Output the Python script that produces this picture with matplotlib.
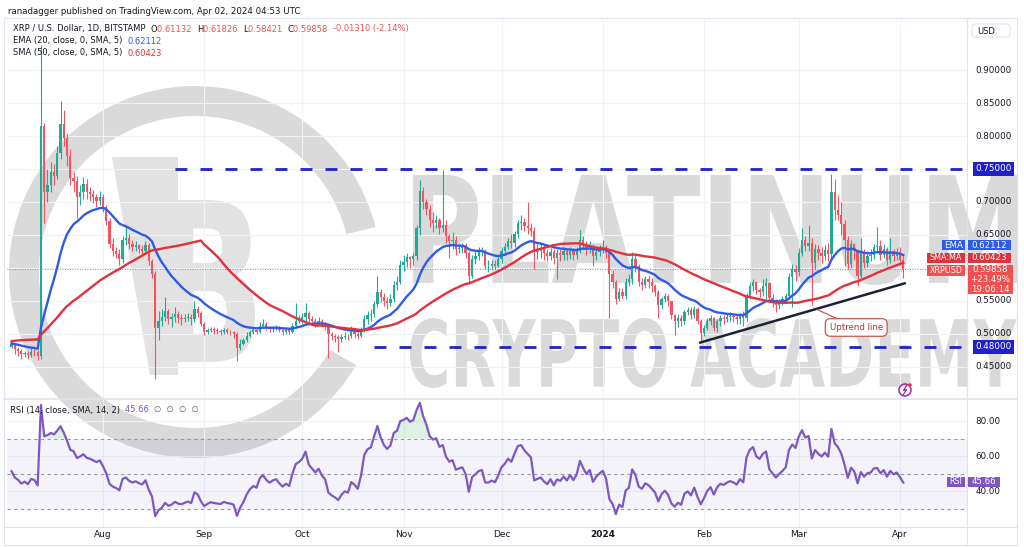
import numpy as np
import pandas as pd
import matplotlib
matplotlib.use('Agg')
import matplotlib.pyplot as plt
import matplotlib.dates as mdates
from matplotlib.patches import Wedge, PathPatch, Rectangle, FancyBboxPatch, Circle, Polygon
from matplotlib.textpath import TextPath
from matplotlib.font_manager import FontProperties
from matplotlib.transforms import Affine2D, blended_transform_factory

W, H = 1024, 547

# daily XRP/USD candles, first bar 2023-07-04, last bar 2024-04-02
first_day = '2023-07-04'

# closes before the first visible bar, only used to warm up EMA/SMA/RSI
warmup_closes = [
    0.430, 0.440, 0.450, 0.460, 0.460, 0.460, 0.460, 0.460, 0.460, 0.460,
    0.470, 0.470, 0.480, 0.500, 0.510, 0.510,
    0.510, 0.530, 0.530, 0.540, 0.520, 0.530, 0.520, 0.520, 0.520, 0.500,
    0.520, 0.530, 0.520, 0.490, 0.470, 0.480, 0.490, 0.480, 0.490, 0.490,
    0.500, 0.490, 0.490, 0.480, 0.480, 0.480, 0.480, 0.470, 0.480, 0.470,
    0.480, 0.490, 0.480,
]

closes = [
    # Jul
    0.485, 0.477, 0.474, 0.469, 0.471, 0.468, 0.473, 0.472, 0.466, 0.815,
    0.715, 0.725, 0.745, 0.740, 0.775, 0.818, 0.797, 0.770, 0.737, 0.732,
    0.707, 0.715, 0.727, 0.715, 0.712, 0.707, 0.702, 0.708,
    # Aug
    0.692, 0.671, 0.636, 0.626, 0.621, 0.613, 0.642, 0.646, 0.636, 0.631,
    0.634, 0.629, 0.626, 0.634, 0.611, 0.591, 0.508, 0.520, 0.525, 0.535,
    0.523, 0.525, 0.530, 0.524, 0.522, 0.524, 0.526, 0.522, 0.537, 0.532,
    0.515,
    # Sep
    0.502, 0.505, 0.507, 0.505, 0.504, 0.503, 0.505, 0.503, 0.502, 0.500,
    0.478, 0.485, 0.490, 0.497, 0.502, 0.505, 0.503, 0.512, 0.515, 0.510,
    0.507, 0.509, 0.510, 0.506, 0.503, 0.505, 0.503, 0.512, 0.520, 0.522,
    # Oct
    0.525, 0.532, 0.523, 0.520, 0.517, 0.520, 0.515, 0.512, 0.500, 0.497,
    0.495, 0.492, 0.495, 0.497, 0.496, 0.502, 0.500, 0.497, 0.505, 0.522,
    0.528, 0.530, 0.545, 0.564, 0.556, 0.550, 0.547, 0.552, 0.574, 0.579,
    0.605,
    # Nov
    0.609, 0.616, 0.613, 0.618, 0.660, 0.716, 0.700, 0.689, 0.673, 0.668,
    0.672, 0.660, 0.665, 0.648, 0.640, 0.643, 0.628, 0.630, 0.632, 0.622,
    0.588, 0.613, 0.618, 0.624, 0.626, 0.603, 0.603, 0.606, 0.603, 0.613,
    # Dec
    0.626, 0.632, 0.641, 0.637, 0.652, 0.668, 0.670, 0.664, 0.660, 0.656,
    0.624, 0.626, 0.628, 0.622, 0.618, 0.624, 0.615, 0.622, 0.620, 0.625,
    0.620, 0.626, 0.620, 0.626, 0.643, 0.635, 0.628, 0.633, 0.618, 0.624,
    0.628,
    # Jan
    0.631, 0.622, 0.590, 0.579, 0.553, 0.564, 0.558, 0.579, 0.583, 0.613,
    0.603, 0.579, 0.574, 0.583, 0.579, 0.572, 0.564, 0.543, 0.553, 0.558,
    0.549, 0.528, 0.519, 0.524, 0.519, 0.533, 0.536, 0.528, 0.538, 0.519,
    0.501,
    # Feb
    0.509, 0.519, 0.524, 0.509, 0.519, 0.524, 0.522, 0.525, 0.527, 0.525,
    0.522, 0.528, 0.524, 0.558, 0.572, 0.578, 0.567, 0.564, 0.573, 0.577,
    0.555, 0.549, 0.543, 0.548, 0.552, 0.557, 0.586, 0.598, 0.594,
    # Mar
    0.622, 0.642, 0.633, 0.638, 0.607, 0.628, 0.622, 0.618, 0.627, 0.621,
    0.715, 0.688, 0.680, 0.667, 0.642, 0.606, 0.636, 0.625, 0.588, 0.622,
    0.607, 0.618, 0.620, 0.632, 0.633, 0.620, 0.628, 0.612, 0.626, 0.618,
    0.622,
    # Apr
    0.61168, 0.59858,
]

highs = [
    # Jul
    0.492, 0.486, 0.480, 0.477, 0.474, 0.474, 0.478, 0.477, 0.476, 0.938,
    0.820, 0.750, 0.760, 0.758, 0.785, 0.853, 0.840, 0.805, 0.780, 0.745,
    0.740, 0.725, 0.738, 0.735, 0.722, 0.718, 0.712, 0.716,
    # Aug
    0.712, 0.695, 0.675, 0.645, 0.632, 0.628, 0.648, 0.662, 0.652, 0.642,
    0.640, 0.636, 0.634, 0.640, 0.638, 0.614, 0.595, 0.535, 0.538, 0.556,
    0.538, 0.532, 0.540, 0.534, 0.530, 0.530, 0.531, 0.530, 0.550, 0.542,
    0.534,
    # Sep
    0.518, 0.509, 0.510, 0.510, 0.508, 0.507, 0.509, 0.508, 0.505, 0.504,
    0.502, 0.492, 0.494, 0.502, 0.506, 0.508, 0.507, 0.518, 0.522, 0.518,
    0.512, 0.512, 0.513, 0.512, 0.507, 0.508, 0.508, 0.516, 0.547, 0.528,
    # Oct
    0.532, 0.547, 0.535, 0.527, 0.524, 0.525, 0.522, 0.518, 0.515, 0.503,
    0.500, 0.498, 0.500, 0.502, 0.500, 0.512, 0.506, 0.503, 0.510, 0.528,
    0.535, 0.538, 0.550, 0.588, 0.568, 0.562, 0.556, 0.560, 0.580, 0.588,
    0.612,
    # Nov
    0.620, 0.622, 0.618, 0.622, 0.665, 0.733, 0.722, 0.705, 0.695, 0.685,
    0.680, 0.675, 0.748, 0.672, 0.652, 0.655, 0.648, 0.638, 0.638, 0.638,
    0.626, 0.620, 0.625, 0.632, 0.632, 0.628, 0.612, 0.612, 0.612, 0.618,
    # Dec
    0.632, 0.638, 0.646, 0.652, 0.656, 0.672, 0.680, 0.676, 0.700, 0.668,
    0.662, 0.636, 0.636, 0.634, 0.628, 0.630, 0.628, 0.628, 0.628, 0.632,
    0.630, 0.632, 0.630, 0.632, 0.658, 0.648, 0.640, 0.640, 0.636, 0.628,
    0.634,
    # Jan
    0.643, 0.634, 0.628, 0.596, 0.582, 0.570, 0.570, 0.585, 0.590, 0.624,
    0.620, 0.606, 0.584, 0.588, 0.588, 0.584, 0.576, 0.566, 0.556, 0.562,
    0.560, 0.550, 0.530, 0.530, 0.528, 0.536, 0.540, 0.540, 0.542, 0.540,
    0.522,
    # Feb
    0.514, 0.524, 0.528, 0.526, 0.522, 0.528, 0.528, 0.532, 0.533, 0.530,
    0.530, 0.532, 0.534, 0.562, 0.578, 0.583, 0.578, 0.570, 0.583, 0.584,
    0.578, 0.560, 0.553, 0.553, 0.558, 0.562, 0.592, 0.606, 0.604,
    # Mar
    0.630, 0.660, 0.648, 0.665, 0.645, 0.636, 0.635, 0.632, 0.634, 0.638,
    0.743, 0.735, 0.710, 0.700, 0.672, 0.648, 0.642, 0.638, 0.628, 0.645,
    0.628, 0.626, 0.628, 0.636, 0.662, 0.642, 0.636, 0.632, 0.646, 0.628,
    0.630,
    # Apr
    0.632, 0.61826,
]

lows = [
    # Jul
    0.478, 0.470, 0.466, 0.461, 0.465, 0.462, 0.464, 0.466, 0.460, 0.462,
    0.668, 0.700, 0.715, 0.725, 0.735, 0.765, 0.785, 0.755, 0.725, 0.715,
    0.675, 0.695, 0.705, 0.705, 0.702, 0.698, 0.692, 0.695,
    # Aug
    0.685, 0.665, 0.630, 0.618, 0.615, 0.605, 0.608, 0.635, 0.628, 0.625,
    0.626, 0.623, 0.620, 0.622, 0.605, 0.585, 0.432, 0.490, 0.512, 0.520,
    0.515, 0.510, 0.518, 0.516, 0.514, 0.518, 0.519, 0.514, 0.518, 0.526,
    0.512,
    # Sep
    0.498, 0.500, 0.503, 0.500, 0.499, 0.498, 0.500, 0.499, 0.498, 0.494,
    0.459, 0.475, 0.483, 0.488, 0.495, 0.500, 0.499, 0.501, 0.509, 0.505,
    0.502, 0.503, 0.506, 0.502, 0.498, 0.500, 0.499, 0.501, 0.509, 0.516,
    # Oct
    0.515, 0.520, 0.518, 0.514, 0.510, 0.512, 0.510, 0.505, 0.463, 0.490,
    0.488, 0.472, 0.487, 0.492, 0.490, 0.493, 0.494, 0.492, 0.495, 0.502,
    0.515, 0.520, 0.525, 0.540, 0.548, 0.542, 0.538, 0.542, 0.548, 0.566,
    0.575,
    # Nov
    0.595, 0.602, 0.600, 0.605, 0.612, 0.650, 0.690, 0.680, 0.662, 0.655,
    0.660, 0.652, 0.655, 0.638, 0.615, 0.628, 0.620, 0.622, 0.622, 0.615,
    0.576, 0.585, 0.606, 0.612, 0.618, 0.598, 0.594, 0.598, 0.598, 0.602,
    # Dec
    0.608, 0.620, 0.628, 0.630, 0.632, 0.645, 0.658, 0.656, 0.652, 0.648,
    0.598, 0.614, 0.615, 0.612, 0.610, 0.612, 0.606, 0.583, 0.610, 0.612,
    0.612, 0.614, 0.612, 0.614, 0.622, 0.628, 0.620, 0.622, 0.603, 0.612,
    0.618,
    # Jan
    0.622, 0.615, 0.524, 0.570, 0.545, 0.550, 0.552, 0.552, 0.572, 0.575,
    0.594, 0.572, 0.566, 0.570, 0.570, 0.563, 0.558, 0.524, 0.538, 0.548,
    0.542, 0.522, 0.498, 0.510, 0.512, 0.515, 0.528, 0.522, 0.524, 0.515,
    0.487,
    # Feb
    0.496, 0.505, 0.514, 0.504, 0.503, 0.512, 0.515, 0.518, 0.520, 0.518,
    0.515, 0.515, 0.512, 0.520, 0.552, 0.565, 0.560, 0.556, 0.558, 0.552,
    0.548, 0.540, 0.533, 0.538, 0.544, 0.548, 0.553, 0.540, 0.580,
    # Mar
    0.588, 0.618, 0.626, 0.625, 0.543, 0.598, 0.612, 0.608, 0.612, 0.610,
    0.612, 0.672, 0.672, 0.650, 0.603, 0.598, 0.600, 0.612, 0.573, 0.584,
    0.600, 0.602, 0.610, 0.614, 0.622, 0.612, 0.615, 0.605, 0.608, 0.610,
    0.612,
    # Apr
    0.604, 0.58421,
]

# values printed by TradingView in the legends and on the price scale
last_ohlc = [0.61132, 0.61826, 0.58421, 0.59858]
last_change = '-0.01310 (-2.14%)'
ema_value = 0.62112
sma_value = 0.60423
rsi_value = 45.66
change_pct = '+23.49%'
countdown = '19:06:14'

# drawings
resistance = 0.75
support = 0.48
resistance_from = '2023-08-23'
support_from = '2023-10-23'
trend_start = ('2024-01-30 18:00', 0.4865)
trend_end = ('2024-04-02 12:00', 0.5766)
callout_tip = ('2024-03-06 16:00', 0.5366)
callout_box = ('2024-03-18 14:00', 0.5095)

price_ticks = [0.45, 0.50, 0.55, 0.65, 0.70, 0.80, 0.85, 0.90]
grid_ticks = [0.45, 0.50, 0.55, 0.60, 0.65, 0.70, 0.75, 0.80, 0.85, 0.90]
rsi_ticks = [40, 60, 80]
month_starts = ['2023-08-01', '2023-09-01', '2023-10-01', '2023-11-01', '2023-12-01',
                '2024-01-01', '2024-02-01', '2024-03-01', '2024-04-01']
month_labels = ['Aug', 'Sep', 'Oct', 'Nov', 'Dec', '2024', 'Feb', 'Mar', 'Apr']

UP = '#22ab94'
DOWN = '#f7525f'
EMA_C = '#2f5bea'
SMA_C = '#e0323c'
RSI_C = '#7e57c2'
LEVEL_C = '#1f22c9'
TXT = '#131722'
GRID = '#f0f2f7'
BORDER = '#e0e3eb'
WM = '#dadada'
WM_LOGO = '#e2e2e2'


def fig_box(x0, y0, x1, y1):
    return [x0 / W, 1 - y1 / H, (x1 - x0) / W, (y1 - y0) / H]


def dnum(s):
    return mdates.date2num(pd.Timestamp(s))


def text_patch(s, x0, y0, x1, y1, color):
    # stretch a bold text outline into a pixel box (y grows downward)
    tp = TextPath((0, 0), s, size=100, prop=FontProperties(family='DejaVu Sans', weight='bold'))
    ext = tp.get_extents()
    tr = (Affine2D().translate(-ext.x0, -ext.y0)
          .scale((x1 - x0) / ext.width, -(y1 - y0) / ext.height)
          .translate(x0, y1))
    return PathPatch(tr.transform_path(tp), fc=color, ec='none')


def draw_background(bg):
    # watermark logo and text
    bg.add_patch(Wedge((195, 272), 186, 30, 346, width=30, fc=WM, ec='none'))
    bg.add_patch(Polygon([(112, 157), (178, 157), (178, 375), (150, 375)], fc=WM_LOGO, ec='none'))
    bg.add_patch(text_patch('B', 165, 200, 255, 362, WM_LOGO))
    bg.add_patch(text_patch('PLATINUM', 413, 175, 1017, 285, WM))
    bg.add_patch(text_patch('CRYPTO ACADEMY', 410, 318, 1017, 388, WM))
    # frame
    bg.add_patch(Rectangle((4, 18), 1013, 527, fill=False, ec=BORDER, lw=0.8))
    bg.plot([967, 967], [18, 545], color=BORDER, lw=0.8)
    bg.plot([4, 1017], [399, 399], color=BORDER, lw=1.2)
    bg.plot([4, 1017], [527, 527], color=BORDER, lw=0.8)


def draw_price_pane(ax, xd, o, c, hi, lo, ema, sma):
    for p in grid_ticks:
        ax.axhline(p, color=GRID, lw=0.8, zorder=0.5)
    for m in month_starts:
        ax.axvline(dnum(m), color=GRID, lw=0.8, zorder=0.5)

    col = np.where(c >= o, UP, DOWN)
    ax.vlines(xd, lo, hi, colors=col, lw=0.8, zorder=3)
    ax.bar(xd, np.abs(c - o), bottom=np.minimum(o, c), width=0.7, color=col, lw=0, zorder=3)

    ax.plot(xd, ema, color=EMA_C, lw=1.7, zorder=4)
    ax.plot(xd, sma, color=SMA_C, lw=1.7, zorder=4)

    ax.axhline(last_ohlc[3], color='#f23645', lw=0.6, ls=(0, (1, 2)), zorder=2)

    xmax = ax.get_xlim()[1]
    ax.plot([dnum(resistance_from), xmax], [resistance, resistance], color=LEVEL_C,
            lw=2, dashes=(4.3, 4.7), zorder=2)
    ax.plot([dnum(support_from), xmax], [support, support], color=LEVEL_C,
            lw=2, dashes=(4.3, 4.7), zorder=2)

    ax.plot([dnum(trend_start[0]), dnum(trend_end[0])], [trend_start[1], trend_end[1]],
            color='#1b2236', lw=1.8, zorder=5, solid_capstyle='round')

    ax.annotate('Uptrend line', xy=(dnum(callout_tip[0]), callout_tip[1]),
                xytext=(dnum(callout_box[0]), callout_box[1]),
                ha='center', va='center', fontsize=6.2, color='#a8362c', zorder=6,
                bbox=dict(boxstyle='round,pad=0.5,rounding_size=0.6', fc='white', ec='#c45a52', lw=0.9),
                arrowprops=dict(arrowstyle='-', color='#c45a52', lw=0.9, shrinkA=0, shrinkB=0))

    tr = blended_transform_factory(ax.transAxes, ax.transData)
    for p in price_ticks:
        ax.text(1.0085, p, f'{p:.5f}', transform=tr, fontsize=6.3, color=TXT,
                va='center', ha='left', clip_on=False)
    for lv in (resistance, support):
        ax.text(1.0085, lv, f'{lv:.5f}', transform=tr, fontsize=6.3, color='white',
                va='center', ha='left', clip_on=False,
                bbox=dict(boxstyle='square,pad=0.3', fc=LEVEL_C, ec='none'))


def draw_rsi_pane(rx, xd, rsi):
    rx.axhspan(30, 70, color=RSI_C, alpha=0.07, lw=0, zorder=0.5)
    for v in rsi_ticks:
        rx.axhline(v, color=GRID, lw=0.8, zorder=0.4)
    for m in month_starts:
        rx.axvline(dnum(m), color=GRID, lw=0.8, zorder=0.4)
    for v in (70, 50, 30):
        rx.axhline(v, color='#9598a1', lw=0.8, dashes=(3, 3), zorder=1)
    rx.fill_between(xd, rsi, 70, where=rsi > 70, interpolate=True, color='#4caf50', alpha=0.18, lw=0)
    rx.plot(xd, rsi, color=RSI_C, lw=1.6, zorder=3)

    tr = blended_transform_factory(rx.transAxes, rx.transData)
    for v in rsi_ticks:
        rx.text(1.0085, v, f'{v:.2f}', transform=tr, fontsize=6.3, color=TXT,
                va='center', ha='left', clip_on=False)

    rx.set_xticks([dnum(m) for m in month_starts])
    rx.set_xticklabels(month_labels)
    rx.tick_params(axis='x', length=0, pad=2.5, labelsize=6.5, labelcolor=TXT)
    for lab in rx.get_xticklabels():
        if lab.get_text() == '2024':
            lab.set_fontweight('bold')


def tag(fg, x0, x1, y0, y1, fc, lines, size=6.2):
    fg.add_patch(Rectangle((x0, y0), x1 - x0, y1 - y0, fc=fc, ec='none'))
    step = (y1 - y0) / len(lines)
    for i, s in enumerate(lines):
        fg.text((x0 + x1) / 2, y0 + step * (i + 0.5), s, color='white', fontsize=size,
                ha='center', va='center')


def text_row(fg, renderer, x, y, parts, size):
    for s, color in parts:
        t = fg.text(x, y, s, color=color, fontsize=size, ha='left', va='center')
        x += t.get_window_extent(renderer=renderer).width


def draw_overlays(fig, fg):
    r = fig.canvas.get_renderer()
    red = '#ef5350'
    fg.text(8, 11, 'ranadagger published on TradingView.com, Apr 02, 2024 04:53 UTC',
            fontsize=6.2, color=TXT, va='center')
    o, h, l, c = last_ohlc
    text_row(fg, r, 13, 29, [('XRP / U.S. Dollar, 1D, BITSTAMP  ', TXT),
                             ('O', TXT), (f'{o:.5f}  ', red), ('H', TXT), (f'{h:.5f}  ', red),
                             ('L', TXT), (f'{l:.5f}  ', red), ('C', TXT), (f'{c:.5f}  ', red),
                             (last_change, red)], 6.0)
    text_row(fg, r, 13, 41, [('EMA (20, close, 0, SMA, 5)  ', TXT), (f'{ema_value:.5f}', EMA_C)], 6.0)
    text_row(fg, r, 13, 53, [('SMA (50, close, 0, SMA, 5)  ', TXT), (f'{sma_value:.5f}', SMA_C)], 6.0)
    text_row(fg, r, 10, 410, [('RSI (14, close, SMA, 14, 2)  ', TXT), (f'{rsi_value:.2f}  ', RSI_C),
                              ('\u2205  \u2205  \u2205  \u2205', '#555a66')], 6.0)

    fg.add_patch(FancyBboxPatch((972, 24), 38, 13, boxstyle='round,pad=0,rounding_size=3',
                                fc='white', ec=BORDER, lw=0.8))
    fg.text(977, 31, 'USD', fontsize=6.0, color=TXT, va='center')

    tag(fg, 942, 965, 240, 250, EMA_C, ['EMA'])
    tag(fg, 968, 1011, 240, 250, EMA_C, [f'{ema_value:.5f}'])
    tag(fg, 927, 965, 253, 263, SMA_C, ['SMA:MA'], 5.8)
    tag(fg, 968, 1011, 253, 263, SMA_C, [f'{sma_value:.5f}'])
    tag(fg, 927, 965, 265, 276, '#f0504f', ['XRPUSD'], 5.8)
    tag(fg, 968, 1013, 265, 294, '#f0504f', [f'{last_ohlc[3]:.5f}', change_pct, countdown])
    tag(fg, 947, 965, 477, 487, RSI_C, ['RSI'], 5.8)
    tag(fg, 968, 1000, 477, 487, RSI_C, [f'{rsi_value:.2f}'])

    fg.add_patch(Circle((905, 390), 6, fill=False, ec='#9c27b0', lw=1.1))
    fg.plot([906.5, 903.5, 906.5, 903.5], [385.5, 390.5, 389.5, 394.5], color='#9c27b0', lw=0.9)
    fg.add_patch(Circle((910, 385), 1.8, fc='#f23645', ec='none'))


def main():
    fig = plt.figure(figsize=(W / 100, H / 100), dpi=100)
    fig.patch.set_facecolor('white')
    bg = fig.add_axes([0, 0, 1, 1], zorder=0)
    ax = fig.add_axes(fig_box(7, 19, 967, 398), zorder=1)
    rx = fig.add_axes(fig_box(7, 400, 967, 527), zorder=1, sharex=ax)
    fg = fig.add_axes([0, 0, 1, 1], zorder=3)
    for a in (bg, fg):
        a.set_xlim(0, W)
        a.set_ylim(H, 0)
        a.axis('off')
        a.patch.set_alpha(0)
    for a in (ax, rx):
        a.set_facecolor('none')
        for s in a.spines.values():
            s.set_visible(False)
        a.tick_params(left=False, labelleft=False, right=False, labelright=False)
    ax.tick_params(bottom=False, labelbottom=False)

    aug1 = dnum('2023-08-01')
    ax.set_xlim(aug1 - 29.39, aug1 + 264.5)
    ax.set_ylim(0.4025, 0.9776)
    rx.set_ylim(19.43, 92.0)

    dates = pd.date_range(first_day, periods=len(closes), freq='D')
    xd = mdates.date2num(dates)
    c = np.array(closes)
    hi = np.array(highs)
    lo = np.array(lows)
    o = np.r_[warmup_closes[-1], c[:-1]]

    n = len(warmup_closes)
    allc = pd.Series(warmup_closes + closes)
    ema = allc.ewm(span=20, adjust=False).mean().to_numpy()[n:]
    sma = allc.rolling(50).mean().to_numpy()[n:]
    delta = allc.diff()
    gain = delta.clip(lower=0).ewm(alpha=1 / 14, adjust=False).mean()
    loss = (-delta.clip(upper=0)).ewm(alpha=1 / 14, adjust=False).mean()
    rsi = (100 - 100 / (1 + gain / loss)).to_numpy()[n:]

    draw_background(bg)
    draw_price_pane(ax, xd, o, c, hi, lo, ema, sma)
    draw_rsi_pane(rx, xd, rsi)
    draw_overlays(fig, fg)

    fig.savefig('out.png', dpi=100, facecolor='white')


if __name__ == '__main__':
    main()
